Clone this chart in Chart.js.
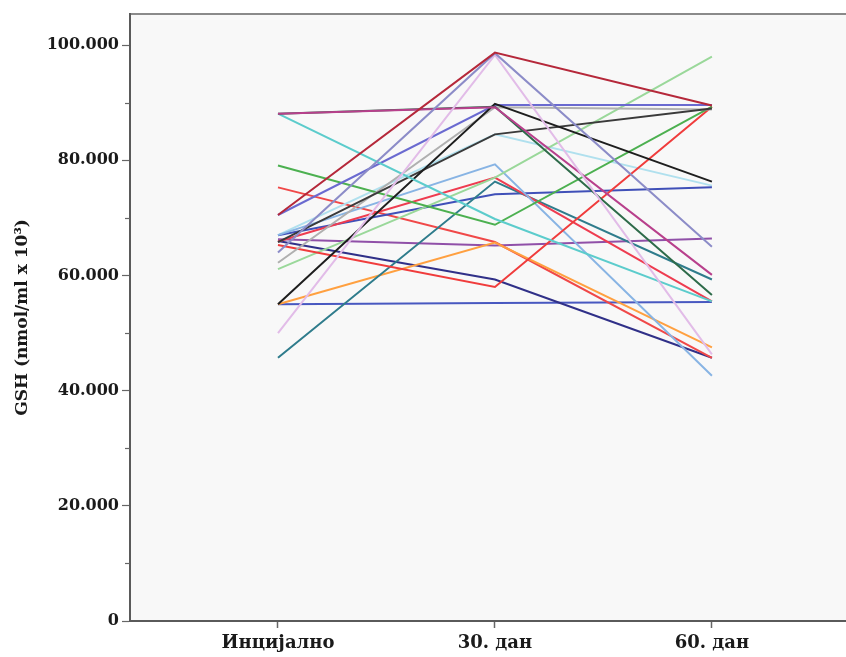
<!DOCTYPE html>
<html>
<head>
<meta charset="utf-8">
<script src="https://cdn.jsdelivr.net/npm/chart.js@4.4.1/dist/chart.umd.min.js"></script>
<style>
  html, body { margin: 0; padding: 0; background: #ffffff; }
  #wrap { width: 846px; height: 657px; position: relative; }
</style>
</head>
<body>
<div id="wrap"><canvas id="c" width="846" height="657"></canvas></div>
<script>
// ---- data ----
const categories = ['Инцијално', '30. дан', '60. дан'];
const yTickValues = [0, 10000, 20000, 30000, 40000, 50000, 60000, 70000, 80000, 90000, 100000];
const yAxisTitle = 'GSH (nmol/ml x 10³)';

const darkRed    = [70500, 98700, 89500];
const periwinkle = [64000, 98600, 65000];
const lavender   = [50000, 98300, 46300];
const magenta    = [88100, 89200, 60100];
const darkGreen  = [88100, 89300, 56600];
const cyan       = [88100, 69800, 55500];
const blackA     = [55000, 89800, 76300];
const blackB     = [65800, 84500, 89000];
const gray       = [62200, 89200, 88800];
const bluePurple = [70500, 89600, 89600];
const green      = [79100, 68800, 89300];
const redUp      = [65300, 58000, 89300];
const lightGreen = [61100, 77000, 98000];
const lightBlue  = [67000, 79300, 42600];
const redPeak    = [65900, 77000, 55500];
const teal       = [45700, 76300, 59300];
const blue       = [67000, 74100, 75300];
const lightCyan  = [67000, 84500, 75600];
const orange     = [55000, 65700, 47500];
const redDown    = [75300, 65800, 45700];
const purple     = [66300, 65200, 66400];
const navy       = [66000, 59300, 45700];
const blueFlat   = [55000, 55200, 55400];

const seriesList = [darkRed, periwinkle, lavender, magenta, darkGreen, cyan, blackA, blackB, gray,
  bluePurple, green, redUp, lightGreen, lightBlue, redPeak, teal, blue, lightCyan, orange,
  redDown, purple, navy, blueFlat];
const seriesColors = ['#b5283a', '#8c8cc8', '#e2bce8', '#b8408c', '#2e6b4a', '#5ccccc', '#1e1e1e',
  '#3a3a3a', '#b0b0b0', '#6a6ad0', '#4cb050', '#f03c3c', '#9ad89a', '#88b4e4', '#ee3c50',
  '#2f7c8c', '#4050b8', '#b0e0ee', '#ffa040', '#f04848', '#9050a8', '#303088', '#4858c0'];

// ---- chart ----
const datasets = seriesList.map((vals, i) => ({
  data: vals.map((v, j) => ({ x: j + 1, y: v })),
  borderColor: seriesColors[i],
  borderWidth: 2,
  pointRadius: 0,
  tension: 0,
  fill: false
}));

const bgPlugin = {
  id: 'bg',
  beforeDraw(chart) {
    const { ctx, chartArea: a } = chart;
    ctx.save();
    ctx.fillStyle = '#f8f8f8';
    ctx.fillRect(a.left, a.top, a.right - a.left, a.bottom - a.top);
    ctx.strokeStyle = '#8a8a8a';
    ctx.lineWidth = 2;
    ctx.beginPath();
    ctx.moveTo(a.left, a.top);
    ctx.lineTo(a.right, a.top);
    ctx.stroke();
    ctx.restore();
  },
  afterDraw(chart) {
    // minor y ticks (shorter)
    const { ctx, chartArea: a, scales } = chart;
    const ys = scales.y;
    ctx.save();
    ctx.strokeStyle = '#666';
    ctx.lineWidth = 1.2;
    yTickValues.forEach(v => {
      if (v % 20000 !== 0) {
        const py = Math.round(ys.getPixelForValue(v)) + 0.5;
        ctx.beginPath();
        ctx.moveTo(a.left - 5, py);
        ctx.lineTo(a.left, py);
        ctx.stroke();
      }
    });
    ctx.restore();
  }
};

const serif = "'DejaVu Serif', 'Liberation Serif', serif";

new Chart(document.getElementById('c'), {
  type: 'line',
  data: { datasets },
  plugins: [bgPlugin],
  options: {
    responsive: false,
    animation: false,
    layout: { padding: { top: 14, left: 0, right: 0, bottom: 0 } },
    plugins: { legend: { display: false }, tooltip: { enabled: false } },
    scales: {
      x: {
        type: 'linear',
        min: 0.318,
        max: 3.618,
        afterBuildTicks(scale) { scale.ticks = categories.map((c, i) => ({ value: i + 1 })); },
        afterFit(scale) { scale.height = 36; },
        ticks: {
          callback: (v) => categories[v - 1] ?? '',
          color: '#1a1a1a',
          font: { family: serif, size: 18, weight: 'bold' },
          padding: 5,
          maxRotation: 0,
          autoSkip: false
        },
        grid: { drawOnChartArea: false, drawTicks: true, tickLength: 7, tickColor: '#666', tickWidth: 1.5 },
        border: { display: true, color: '#5a5a5a', width: 2 }
      },
      y: {
        min: 0,
        max: 105400,
        afterBuildTicks(scale) { scale.ticks = yTickValues.map(v => ({ value: v })); },
        afterFit(scale) { scale.width = 130; },
        ticks: {
          callback: (v) => v % 20000 !== 0 ? '' : (v === 0 ? '0' : (v / 1000).toFixed(3)),
          color: '#1a1a1a',
          font: { family: serif, size: 16, weight: 'bold' },
          padding: 3,
          autoSkip: false
        },
        grid: {
          drawOnChartArea: false, drawTicks: true, tickLength: 8,
          tickColor: (c) => (c.tick && c.tick.value % 20000 === 0) ? '#666' : 'rgba(0,0,0,0)',
          tickWidth: 1.2
        },
        border: { display: true, color: '#5a5a5a', width: 2 },
        title: {
          display: true,
          text: yAxisTitle,
          color: '#1a1a1a',
          font: { family: serif, size: 17, weight: 'bold' },
          padding: { top: 12, bottom: 0 }
        }
      }
    }
  }
});
</script>
</body>
</html>
